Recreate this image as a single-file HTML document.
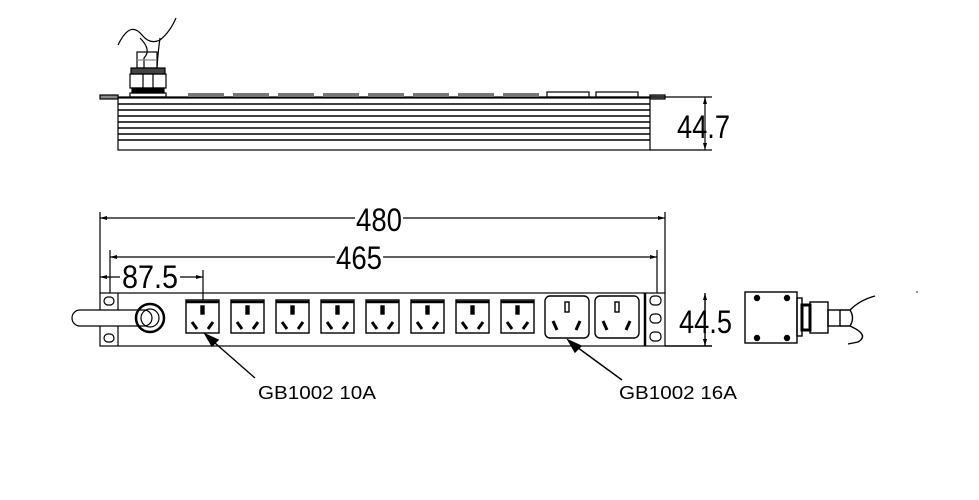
<!DOCTYPE html>
<html><head><meta charset="utf-8"><style>html,body{margin:0;padding:0;background:#fff}svg{display:block}</style></head>
<body>
<svg width="979" height="500" viewBox="0 0 979 500" xmlns="http://www.w3.org/2000/svg" font-family="Liberation Sans, sans-serif">
<rect width="979" height="500" fill="#fff"/>
<g stroke="#000" fill="none" stroke-width="1.2">
<!-- TOP VIEW -->
<path d="M118 45 Q130 20 142 35 Q150 45 160 40 Q170 32 176 18" />
<path d="M140 38 Q152 50 144 58 L144 68 M160 38 Q158 52 157 68"/>
<rect x="137" y="52" width="20" height="16"/>
<line x1="137" y1="60" x2="157" y2="60" stroke="#888"/>
<rect x="131" y="68" width="34" height="6" fill="#444"/>
<rect x="130" y="74" width="36" height="14"/>
<line x1="143" y1="74" x2="143" y2="88"/><line x1="153" y1="74" x2="153" y2="88"/>
<rect x="132" y="88" width="32" height="5" fill="#000"/>
<rect x="130" y="93" width="36" height="4"/>
<line x1="103" y1="97" x2="665" y2="97"/>
<rect x="100" y="95" width="18" height="4" fill="#888"/>
<rect x="650" y="95" width="15" height="4" fill="#888"/>
<rect x="118" y="98" width="532" height="52"/>
<g stroke-width="1.6">
<line x1="118" y1="104" x2="650" y2="104"/><line x1="118" y1="110" x2="650" y2="110"/>
<line x1="118" y1="116" x2="650" y2="116"/><line x1="118" y1="122" x2="650" y2="122"/>
<line x1="118" y1="128" x2="650" y2="128"/><line x1="118" y1="134" x2="650" y2="134"/>
<line x1="118" y1="140" x2="650" y2="140"/>
</g>
<g fill="#777" stroke="none">
<rect x="188" y="93" width="36" height="4"/><rect x="233" y="93" width="36" height="4"/>
<rect x="278" y="93" width="36" height="4"/><rect x="323" y="93" width="36" height="4"/>
<rect x="368" y="93" width="36" height="4"/><rect x="413" y="93" width="36" height="4"/>
<rect x="458" y="93" width="36" height="4"/><rect x="503" y="93" width="36" height="4"/>
</g>
<rect x="547" y="92" width="42" height="5"/><rect x="596" y="92" width="42" height="5"/>
<line x1="650" y1="150" x2="712" y2="150"/>
<line x1="650" y1="97" x2="712" y2="97"/>
<line x1="705" y1="97" x2="705" y2="150"/>
<!-- FRONT VIEW dims -->
<line x1="100" y1="212" x2="100" y2="293"/>
<line x1="665" y1="212" x2="665" y2="293"/>
<line x1="100" y1="218" x2="355" y2="218"/><line x1="403" y1="218" x2="665" y2="218"/>
<line x1="110" y1="250" x2="110" y2="293"/>
<line x1="657" y1="250" x2="657" y2="293"/>
<line x1="110" y1="257" x2="335" y2="257"/><line x1="383" y1="257" x2="657" y2="257"/>
<line x1="100" y1="277" x2="120" y2="277"/><line x1="180" y1="277" x2="203" y2="277"/>
<line x1="203" y1="270" x2="203" y2="300"/>
<!-- body -->
<rect x="100" y="293" width="565" height="53"/>
<line x1="118" y1="293" x2="118" y2="346"/>
<line x1="645" y1="293" x2="645" y2="346" stroke-width="2.5"/>
<rect x="104" y="297" width="10" height="8" rx="4"/><rect x="104" y="334" width="10" height="8" rx="4"/>
<rect x="650" y="296" width="11" height="9" rx="4"/><rect x="650" y="314" width="11" height="9" rx="4"/><rect x="650" y="332" width="11" height="9" rx="4"/>
<rect x="72" y="310" width="80" height="16" rx="8" fill="#fff"/>
<circle cx="150" cy="318" r="14" stroke-width="2.5"/>
<circle cx="150" cy="318" r="9"/>
</g>
<g fill="#000">
<path d="M100 218 l7 -2 v4z M665 218 l-7 -2 v4z M110 257 l7 -2 v4z M657 257 l-7 -2 v4z M100 277 l7 -2 v4z M203 277 l-7 -2 v4z"/>
<path d="M705 97 l-2 7 h4z M705 150 l-2 -7 h4z M705 293 l-2 7 h4z M705 346 l-2 -7 h4z"/>
</g>
<g stroke="#000" fill="none" stroke-width="1.4">
<g id="s"><rect x="186" y="300" width="33" height="33"/><rect x="201" y="306" width="3" height="8" fill="#000"/><line x1="192" y1="322" x2="197" y2="329" stroke-width="3"/><line x1="213" y1="322" x2="208" y2="329" stroke-width="3"/><line x1="186" y1="302" x2="219" y2="302" stroke-width="2.5"/></g>
<use href="#s" x="45"/><use href="#s" x="90"/><use href="#s" x="135"/><use href="#s" x="180"/><use href="#s" x="225"/><use href="#s" x="270"/><use href="#s" x="315"/>
<g id="b"><rect x="545" y="296" width="44" height="42" rx="5"/><rect x="565" y="302" width="4" height="10"/><line x1="553" y1="321" x2="557" y2="330" stroke-width="3"/><line x1="580" y1="321" x2="576" y2="330" stroke-width="3"/></g>
<use href="#b" x="50"/>
<line x1="705" y1="293" x2="705" y2="346"/>
<line x1="665" y1="346" x2="712" y2="346"/>
<!-- right connector -->
<rect x="745" y="292" width="52" height="51"/>
<circle cx="757" cy="298" r="2.5" fill="#000"/><circle cx="787" cy="298" r="2.5" fill="#000"/>
<circle cx="757" cy="338" r="2.5" fill="#000"/><circle cx="787" cy="338" r="2.5" fill="#000"/>
<rect x="797" y="298" width="5" height="38"/>
<rect x="802" y="305" width="8" height="25" stroke-width="3"/>
<rect x="810" y="302" width="18" height="31"/>
<rect x="828" y="310" width="12" height="16"/>
<path d="M840 310 L850 310 Q860 300 875 296 M840 326 L850 326 Q870 335 858 342 L848 344 M850 310 Q855 318 850 326"/>
<!-- leaders -->
<line x1="207" y1="336" x2="255" y2="378"/>
<path d="M205 334 L218 340 L212 346 Z" fill="#000"/>
<line x1="570" y1="342" x2="622" y2="380"/>
<path d="M568 340 L581 346 L575 352 Z" fill="#000"/>
</g>
<g font-size="32" fill="#000">
<text x="356" y="231" textLength="46" lengthAdjust="spacingAndGlyphs">480</text>
<text x="336" y="269" textLength="46" lengthAdjust="spacingAndGlyphs">465</text>
<text x="122" y="288" textLength="56" lengthAdjust="spacingAndGlyphs">87.5</text>
<text x="677" y="138" textLength="53" lengthAdjust="spacingAndGlyphs">44.7</text>
<text x="679" y="333" textLength="53" lengthAdjust="spacingAndGlyphs">44.5</text>
</g>
<g font-family="Liberation Sans, sans-serif" font-size="18" fill="#000">
<text x="258" y="399" textLength="118" lengthAdjust="spacingAndGlyphs">GB1002 10A</text>
<text x="619" y="399" textLength="118" lengthAdjust="spacingAndGlyphs">GB1002 16A</text>
</g>
<circle cx="917" cy="292" r="0.8" fill="#000"/>
</svg>
</body></html>
